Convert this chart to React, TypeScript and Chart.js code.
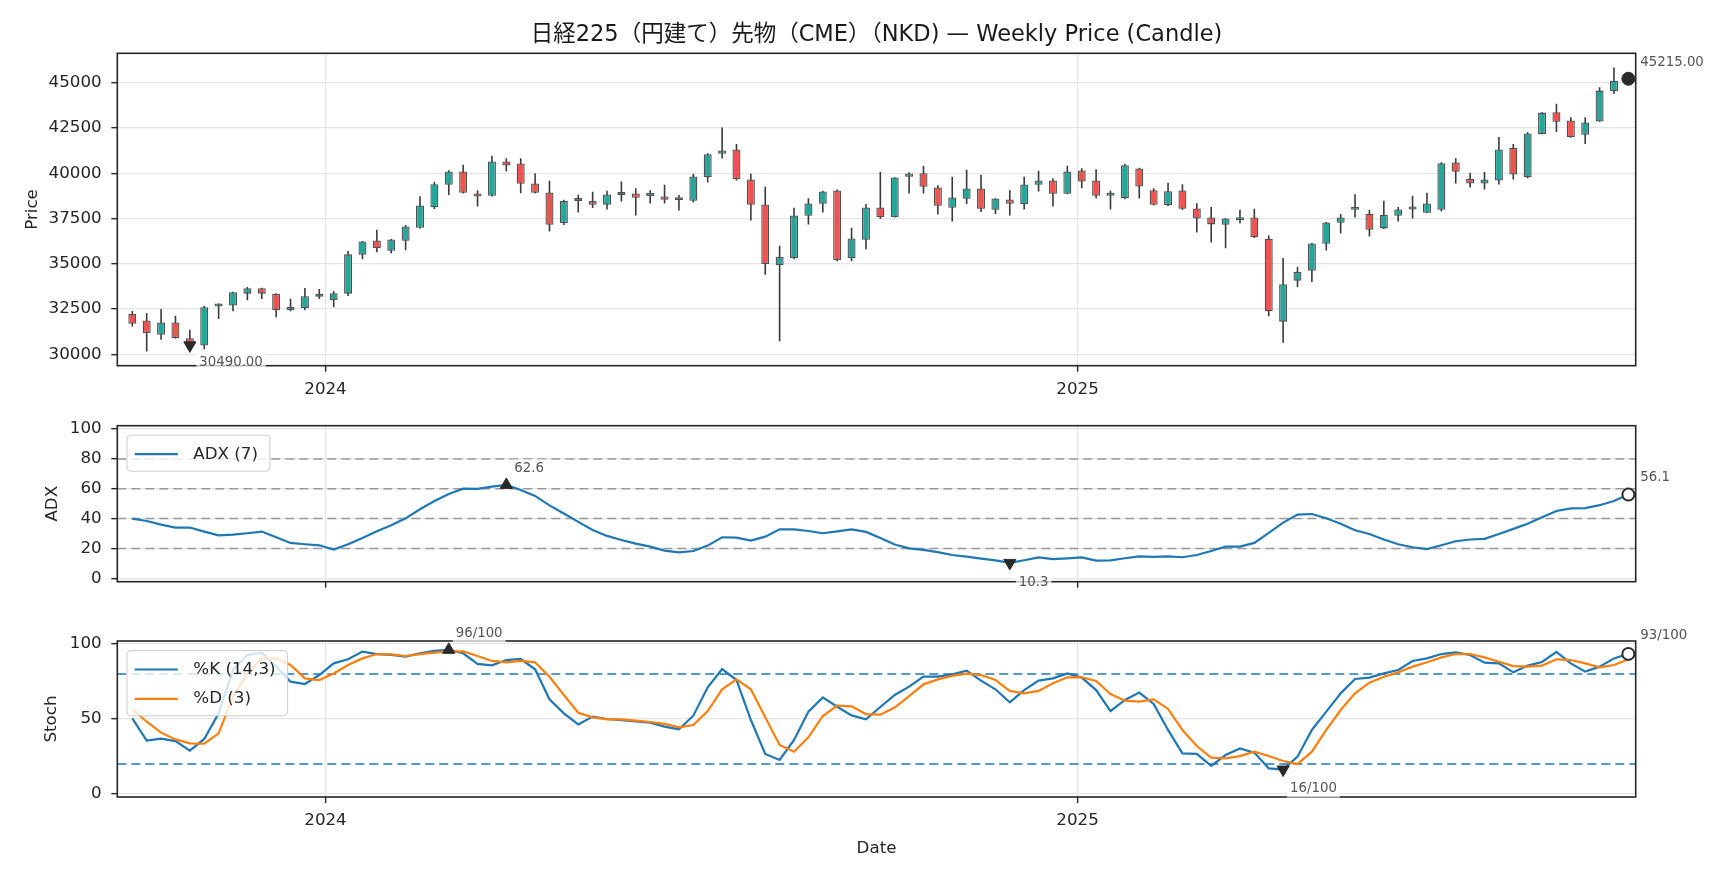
import React, { useEffect, useRef } from "react";
import { Chart, registerables } from "chart.js";

Chart.register(...registerables);

const FONT = "'DejaVu Sans', 'Noto Sans CJK JP', sans-serif";
const TITLE = "日経225（円建て）先物（CME）（NKD) — Weekly Price (Candle)";

// ---------- data ----------
const OPEN = [32222, 31870, 31074, 31759, 30889, 30480, 32640, 32685, 33347, 33641,
  33329, 32446, 32557, 33170, 32998, 33347, 35498, 36288, 35718, 36270,
  36986, 38126, 39357, 40093, 38861, 38751, 40644, 40534, 39431, 38935,
  37244, 38470, 38457, 38255, 38790, 38879, 38740, 38714, 38500, 38475,
  39780, 41067, 41306, 39651, 38273, 34909, 35314, 37648, 38310, 39045,
  35295, 36325, 38108, 37574, 39799, 40001, 39210, 38089, 38585, 39155,
  37979, 38549, 38291, 39357, 39596, 38861, 40148, 39596, 38750, 38622,
  40258, 39063, 38236, 39045, 38052, 37556, 37152, 37400, 37556, 36380,
  31800, 34064, 34615, 36104, 37262, 37980, 37758, 36950, 37648, 38010,
  37813, 37979, 40589, 39688, 39431, 39596, 41398, 39780, 42170, 43370,
  42912, 42124, 42857, 44542, 44950];

const HIGH = [32389, 32278, 32500, 32130, 31352, 32670, 32800, 33458, 33715, 33678,
  33365, 33071, 33660, 33604, 33476, 35700, 36251, 36876, 36361, 37134,
  38732, 39523, 40166, 40460, 39063, 40956, 40828, 40828, 40001, 39578,
  38530, 38806, 38971, 39027, 39541, 39174, 39063, 39357, 38788, 39964,
  41104, 42519, 41618, 39964, 39247, 35994, 38089, 38622, 39027, 39100,
  36986, 38291, 40074, 39780, 40056, 40405, 39339, 39799, 40184, 39909,
  38622, 39063, 39799, 40129, 39725, 40405, 40277, 40221, 39027, 40515,
  40295, 39174, 39468, 39394, 38346, 38126, 37519, 37979, 38034, 36564,
  35314, 34818, 36141, 37299, 37740, 38843, 37960, 38475, 38126, 38751,
  38916, 40607, 40828, 40019, 40074, 42004, 41618, 42261, 43364, 43828,
  43095, 43095, 44744, 45836, 45480];

const LOW = [31537, 30150, 30796, 30870, 30420, 30278, 31950, 32373, 32980, 33053,
  32042, 32373, 32428, 33053, 32594, 33218, 35240, 35626, 35571, 35755,
  36950, 38016, 38788, 38880, 38163, 38714, 40093, 38898, 38880, 36784,
  37134, 37832, 38071, 37997, 38438, 37666, 38328, 38328, 37942, 38383,
  39486, 40809, 39596, 37391, 34395, 30716, 35240, 37170, 37832, 35130,
  35130, 35792, 37464, 37556, 38880, 38880, 37722, 37335, 38291, 37850,
  37740, 37666, 37997, 38990, 38163, 38843, 39174, 38622, 37997, 38567,
  38604, 38218, 38181, 37960, 36729, 36178, 35847, 37225, 36417, 32097,
  30628, 33715, 33990, 35736, 36674, 37556, 36508, 36913, 37335, 37501,
  37795, 37887, 39431, 39210, 39100, 39376, 39651, 39725, 42151, 42270,
  41950, 41611, 42838, 44377, 44900];

const CLOSE = [31685, 31167, 31759, 30889, 30490, 32600, 32770, 33421, 33641, 33347,
  32446, 32575, 33200, 33200, 33365, 35516, 36233, 35847, 36343, 37060,
  38218, 39394, 40093, 38916, 38714, 40644, 40423, 39412, 38916, 37152,
  38457, 38500, 38255, 38824, 38810, 38640, 38760, 38530, 38520, 39817,
  41048, 41250, 39670, 38255, 34983, 35369, 37666, 38328, 38990, 35203,
  36398, 38108, 37574, 39762, 39982, 39247, 38199, 38659, 39155, 38034,
  38604, 38310, 39376, 39596, 38861, 40093, 39541, 38751, 38770, 40442,
  39265, 38255, 39008, 38034, 37501, 37170, 37501, 37430, 36472, 32373,
  33862, 34560, 36123, 37280, 37556, 38010, 36876, 37703, 37997, 37990,
  38328, 40552, 40074, 39431, 39651, 41306, 39927, 42188, 43346, 42838,
  41996, 42802, 44560, 45110, 45215];

const ADX = [40.0, 38.4, 36.0, 34.0, 34.0, 31.3, 28.8, 29.3, 30.2, 31.3,
  27.5, 23.7, 22.8, 22.1, 19.2, 22.8, 27.0, 31.5, 35.5, 40.2,
  46.3, 51.8, 56.5, 60.1, 59.9, 61.5, 62.6, 59.2, 55.2, 48.9,
  43.4, 37.8, 32.4, 28.4, 25.7, 23.2, 21.2, 18.5, 17.4, 18.3,
  21.9, 27.5, 27.3, 25.3, 27.9, 32.8, 32.8, 31.7, 30.2, 31.5,
  32.8, 31.1, 27.0, 22.6, 20.1, 19.0, 17.5, 15.6, 14.5, 13.2,
  12.0, 10.3, 12.1, 14.0, 12.8, 13.4, 14.0, 11.8, 12.0, 13.4,
  14.7, 14.3, 14.7, 14.1, 15.6, 18.3, 21.2, 21.2, 23.7, 30.4,
  37.3, 42.7, 43.1, 40.2, 36.6, 32.2, 29.7, 26.0, 22.8, 20.8,
  19.6, 22.1, 24.8, 26.0, 26.4, 29.7, 33.1, 36.6, 40.9, 45.1,
  46.9, 47.0, 49.0, 51.8, 56.1];

const STOCH_K = [50.4, 35.6, 36.9, 35.3, 28.9, 36.7, 53.8, 82.7, 92.7, 94.2,
  84.9, 74.9, 73.3, 79.3, 87.1, 89.8, 94.9, 93.3, 92.7, 91.6,
  93.8, 95.4, 96.1, 93.8, 86.7, 85.8, 89.3, 90.0, 83.1, 63.1,
  53.8, 46.4, 51.6, 50.0, 49.3, 48.4, 47.6, 44.9, 43.1, 52.2,
  71.1, 83.3, 76.0, 49.3, 26.7, 22.7, 36.0, 54.9, 64.4, 58.2,
  52.4, 49.8, 58.0, 66.0, 71.6, 78.2, 78.2, 79.8, 82.2, 75.6,
  69.8, 61.1, 69.3, 75.6, 77.1, 80.4, 77.6, 69.3, 55.3, 62.7,
  67.6, 60.0, 42.7, 27.1, 26.7, 18.7, 26.0, 30.4, 27.6, 17.1,
  16.3, 24.9, 42.7, 54.9, 67.1, 76.7, 77.6, 80.4, 82.7, 88.7,
  90.4, 93.3, 94.4, 92.7, 87.6, 87.1, 81.1, 85.6, 88.0, 94.7,
  87.1, 81.6, 84.9, 90.4, 93.4];

const STOCH_D = [56.7, 48.2, 40.9, 36.4, 33.8, 33.6, 40.4, 64.9, 80.4, 90.4,
  90.4, 86.0, 77.1, 76.0, 80.4, 86.0, 90.4, 93.3, 93.1, 92.0,
  93.3, 94.2, 95.1, 95.1, 92.0, 88.7, 87.8, 88.7, 87.8, 78.2,
  66.0, 54.2, 51.1, 49.8, 49.8, 48.9, 48.0, 46.7, 44.4, 46.0,
  55.3, 69.8, 76.4, 69.8, 51.1, 32.7, 28.2, 37.8, 52.0, 58.9,
  58.4, 53.3, 52.9, 57.6, 65.3, 73.1, 76.4, 78.7, 80.2, 79.3,
  76.0, 68.7, 67.1, 68.7, 73.8, 77.8, 77.8, 75.3, 66.7, 62.2,
  61.6, 63.1, 56.7, 42.7, 32.0, 24.2, 23.8, 25.3, 28.2, 25.3,
  22.0, 20.0, 28.2, 42.7, 56.0, 67.1, 74.2, 78.2, 81.1, 84.9,
  87.8, 91.1, 93.3, 93.3, 91.1, 88.2, 85.3, 84.9, 85.6, 89.8,
  89.3, 87.1, 84.4, 86.0, 89.8];

// x positions (week index) of the year ticks and their labels
const YEAR_LABELS = ["2024", "2025"];
const YEAR_POS = [13.43, 65.71];
const PRICE_TICKS = [30000, 32500, 35000, 37500, 40000, 42500, 45000];
const ADX_TICKS = [0, 20, 40, 60, 80, 100];
const ADX_LEVELS = [20, 40, 60, 80];
const STOCH_TICKS = [0, 50, 100];
const STOCH_LEVELS = [20, 80];

// ---------- style / layout ----------
const X_MIN = -1.043;
const X_MAX = 104.51;
const PLOT_LEFT = 117.3;
const PLOT_RIGHT = 1635.7;
const W = 1728;

const TEAL = "#26a69a";
const RED = "#ef5350";
const EDGE = "#505050";
const WICK = "#3a3a3a";
const BLUE = "#1f77b4";
const ORANGE = "#ff7f0e";
const GRID = "#e6e6e6";
const AXIS = "#262626";
const TEXT = "#262626";
const MARK = "#2a2a2a";
const TICK_FONT = { size: 16.7, family: FONT };

const argmin = (a: number[]) => a.reduce((b, v, i) => (v < a[b] ? i : b), 0);
const argmax = (a: number[]) => a.reduce((b, v, i) => (v > a[b] ? i : b), 0);

type Ann = { x: number; y: number; text: string; dx: number; dy: number };
type LegendItem = { label: string; color: string };

function decor(cfg: { title?: string; legend?: LegendItem[]; anns: Ann[] }) {
  return {
    id: "decor",
    afterDatasetsDraw(chart: any) {
      const { ctx, chartArea: a } = chart;
      ctx.save();
      ctx.strokeStyle = AXIS;
      ctx.lineWidth = 1.6;
      ctx.strokeRect(a.left, a.top, a.right - a.left, a.bottom - a.top);
      ctx.restore();
    },
    afterDraw(chart: any) {
      const { ctx, chartArea: a, scales } = chart;
      ctx.save();
      if (cfg.legend) {
        const items = cfg.legend;
        ctx.font = `16.7px ${FONT}`;
        const tw = Math.max(...items.map((l) => ctx.measureText(l.label).width));
        const bx = a.left + 9.7;
        const by = a.top + 9.5;
        const tx = a.left + 76;
        const bw = tx + tw + 12 - bx;
        const bh = 19 + (items.length - 1) * 29.3 + 17;
        ctx.beginPath();
        if ((ctx as any).roundRect) (ctx as any).roundRect(bx, by, bw, bh, 4);
        else ctx.rect(bx, by, bw, bh);
        ctx.fillStyle = "rgba(255,255,255,0.8)";
        ctx.fill();
        ctx.strokeStyle = "#cccccc";
        ctx.lineWidth = 1;
        ctx.stroke();
        items.forEach((l, k) => {
          const y = by + 19 + k * 29.3;
          ctx.beginPath();
          ctx.moveTo(a.left + 17.4, y);
          ctx.lineTo(a.left + 60.5, y);
          ctx.strokeStyle = l.color;
          ctx.lineWidth = 2.2;
          ctx.stroke();
          ctx.fillStyle = TEXT;
          ctx.textAlign = "left";
          ctx.textBaseline = "middle";
          ctx.fillText(l.label, tx, y);
        });
      }
      ctx.font = `13.3px ${FONT}`;
      ctx.textAlign = "left";
      ctx.textBaseline = "middle";
      for (const an of cfg.anns) {
        const px = scales.x.getPixelForValue(an.x) + an.dx;
        const py = scales.y.getPixelForValue(an.y) + an.dy;
        const w = ctx.measureText(an.text).width;
        ctx.fillStyle = "rgba(255,255,255,0.7)";
        ctx.fillRect(px - 3, py - 9, w + 6, 18);
        ctx.fillStyle = "#555555";
        ctx.fillText(an.text, px, py);
      }
      if (cfg.title) {
        ctx.font = `22.5px ${FONT}`;
        ctx.fillStyle = "#1a1a1a";
        ctx.textAlign = "center";
        ctx.textBaseline = "middle";
        ctx.fillText(cfg.title, (a.left + a.right) / 2, 35.5);
      }
      ctx.restore();
    },
  };
}

function xScale(axisHeight: number, showLabels: boolean, title?: string): any {
  return {
    type: "linear",
    min: X_MIN,
    max: X_MAX,
    offset: false,
    afterBuildTicks: (ax: any) => {
      ax.ticks = YEAR_POS.map((v) => ({ value: v }));
    },
    afterFit: (ax: any) => {
      ax.height = axisHeight;
    },
    ticks: {
      autoSkip: false,
      maxRotation: 0,
      padding: 8,
      color: TEXT,
      font: TICK_FONT,
      callback: (_v: any, i: number) => (showLabels ? YEAR_LABELS[i] : ""),
    },
    grid: { offset: false, color: GRID, lineWidth: 1.3, drawTicks: true, tickLength: 6, tickColor: AXIS, tickWidth: 1.4 },
    border: { display: false },
    title: title
      ? { display: true, text: title, color: TEXT, font: TICK_FONT, padding: { top: 0, bottom: 19 } }
      : { display: false },
  };
}

function yScale(min: number, max: number, ticks: number[], title: string, titlePad: number): any {
  return {
    type: "linear",
    min,
    max,
    beginAtZero: false,
    afterBuildTicks: (ax: any) => {
      ax.ticks = ticks.map((v) => ({ value: v }));
    },
    afterFit: (ax: any) => {
      ax.width = PLOT_LEFT;
    },
    ticks: { padding: 9.6, color: TEXT, font: TICK_FONT, callback: (v: any) => String(v) },
    grid: { color: GRID, lineWidth: 1.3, drawTicks: true, tickLength: 6, tickColor: AXIS, tickWidth: 1.4 },
    border: { display: false },
    title: { display: true, text: title, color: TEXT, font: TICK_FONT, padding: { top: titlePad, bottom: 0 } },
  };
}

const baseOptions = (top: number) => ({
  animation: false as const,
  responsive: false,
  events: [] as any[],
  layout: { padding: { left: 0, right: W - PLOT_RIGHT, top, bottom: 0 } },
  plugins: { legend: { display: false }, tooltip: { enabled: false }, title: { display: false } },
});

function makePrice(canvas: HTMLCanvasElement) {
  const idx = CLOSE.map((_, i) => i);
  const minI = argmin(CLOSE);
  const lastI = CLOSE.length - 1;
  return new Chart(canvas, {
    type: "bar",
    data: {
      datasets: [
        {
          type: "line",
          data: [{ x: minI, y: CLOSE[minI] }],
          showLine: false,
          pointStyle: "triangle",
          pointRotation: 180,
          pointRadius: 7,
          pointBackgroundColor: MARK,
          pointBorderColor: MARK,
          order: 0,
          clip: false,
        } as any,
        {
          type: "line",
          data: [{ x: lastI, y: CLOSE[lastI] }],
          showLine: false,
          pointStyle: "circle",
          pointRadius: 6.5,
          pointBackgroundColor: MARK,
          pointBorderColor: MARK,
          order: 0,
          clip: false,
        } as any,
        {
          type: "bar",
          data: idx.map((i) => ({ x: i, y: [OPEN[i], CLOSE[i]] })),
          backgroundColor: idx.map((i) => (CLOSE[i] >= OPEN[i] ? TEAL : RED)),
          borderColor: EDGE,
          borderWidth: 1.3,
          borderSkipped: false,
          maxBarThickness: 8,
          minBarLength: 3,
          grouped: false,
          order: 1,
        } as any,
        {
          type: "bar",
          data: idx.map((i) => ({ x: i, y: [LOW[i], HIGH[i]] })),
          backgroundColor: WICK,
          borderWidth: 0,
          maxBarThickness: 1.6,
          grouped: false,
          order: 2,
        } as any,
      ],
    },
    options: {
      ...baseOptions(53.3),
      scales: {
        x: xScale(34.3, true),
        y: yScale(29367, 46621, PRICE_TICKS, "Price", 23),
      },
    } as any,
    plugins: [
      decor({
        title: TITLE,
        anns: [
          { x: minI, y: CLOSE[minI], text: CLOSE[minI].toFixed(2), dx: 9.5, dy: 17.5 },
          { x: lastI, y: CLOSE[lastI], text: CLOSE[lastI].toFixed(2), dx: 12, dy: -16.5 },
        ],
      }) as any,
    ],
  });
}

function markerSets(values: number[]) {
  const maxI = argmax(values);
  const minI = argmin(values);
  const lastI = values.length - 1;
  const common = { type: "line", showLine: false, order: 0, clip: false };
  return {
    maxI,
    minI,
    lastI,
    sets: [
      { ...common, data: [{ x: maxI, y: values[maxI] }], pointStyle: "triangle", pointRadius: 7, pointBackgroundColor: MARK, pointBorderColor: MARK },
      { ...common, data: [{ x: minI, y: values[minI] }], pointStyle: "triangle", pointRotation: 180, pointRadius: 7, pointBackgroundColor: MARK, pointBorderColor: MARK },
      { ...common, data: [{ x: lastI, y: values[lastI] }], pointStyle: "circle", pointRadius: 6, pointBackgroundColor: "#ffffff", pointBorderColor: MARK, pointBorderWidth: 2 },
    ] as any[],
  };
}

function levelSets(levels: number[], color: string, width: number) {
  return levels.map((l) => ({
    type: "line",
    data: [{ x: X_MIN, y: l }, { x: X_MAX, y: l }],
    borderColor: color,
    borderWidth: width,
    borderDash: [9, 5],
    pointRadius: 0,
    order: 5,
  })) as any[];
}

function makeAdx(canvas: HTMLCanvasElement) {
  const m = markerSets(ADX);
  return new Chart(canvas, {
    type: "line",
    data: {
      datasets: [
        ...m.sets,
        {
          label: "ADX (7)",
          data: ADX.map((v, i) => ({ x: i, y: v })),
          borderColor: BLUE,
          borderWidth: 2.2,
          pointRadius: 0,
          tension: 0,
          order: 1,
        },
        ...levelSets(ADX_LEVELS, "#9a9a9a", 1.5),
      ],
    },
    options: {
      ...baseOptions(25.7),
      scales: {
        x: xScale(28.3, false),
        y: yScale(-2.3, 102.3, ADX_TICKS, "ADX", 43),
      },
    } as any,
    plugins: [
      decor({
        legend: [{ label: "ADX (7)", color: BLUE }],
        anns: [
          { x: m.maxI, y: ADX[m.maxI], text: ADX[m.maxI].toFixed(1), dx: 8, dy: -16.6 },
          { x: m.minI, y: ADX[m.minI], text: ADX[m.minI].toFixed(1), dx: 9, dy: 20 },
          { x: m.lastI, y: ADX[m.lastI], text: ADX[m.lastI].toFixed(1), dx: 12, dy: -17.3 },
        ],
      }) as any,
    ],
  });
}

function makeStoch(canvas: HTMLCanvasElement) {
  const m = markerSets(STOCH_K);
  const fmt = (v: number) => `${Math.round(v)}/100`;
  return new Chart(canvas, {
    type: "line",
    data: {
      datasets: [
        ...m.sets,
        {
          label: "%D (3)",
          data: STOCH_D.map((v, i) => ({ x: i, y: v })),
          borderColor: ORANGE,
          borderWidth: 2.2,
          pointRadius: 0,
          tension: 0,
          order: 1,
        },
        {
          label: "%K (14,3)",
          data: STOCH_K.map((v, i) => ({ x: i, y: v })),
          borderColor: BLUE,
          borderWidth: 2.2,
          pointRadius: 0,
          tension: 0,
          order: 2,
        },
        ...levelSets(STOCH_LEVELS, BLUE, 1.7),
      ],
    },
    options: {
      ...baseOptions(31),
      scales: {
        x: xScale(81, true, "Date"),
        y: yScale(-2, 102, STOCH_TICKS, "Stoch", 42),
      },
    } as any,
    plugins: [
      decor({
        legend: [
          { label: "%K (14,3)", color: BLUE },
          { label: "%D (3)", color: ORANGE },
        ],
        anns: [
          { x: m.maxI, y: STOCH_K[m.maxI], text: fmt(STOCH_K[m.maxI]), dx: 7, dy: -16 },
          { x: m.minI, y: STOCH_K[m.minI], text: fmt(STOCH_K[m.minI]), dx: 7, dy: 19 },
          { x: m.lastI, y: STOCH_K[m.lastI], text: fmt(STOCH_K[m.lastI]), dx: 12, dy: -18.5 },
        ],
      }) as any,
    ],
  });
}

export default function App() {
  const aRef = useRef<HTMLCanvasElement>(null);
  const bRef = useRef<HTMLCanvasElement>(null);
  const cRef = useRef<HTMLCanvasElement>(null);

  useEffect(() => {
    Chart.defaults.font.family = FONT;
    Chart.defaults.color = TEXT;
    const charts = [makePrice(aRef.current!), makeAdx(bRef.current!), makeStoch(cRef.current!)];
    return () => charts.forEach((c) => c.destroy());
  }, []);

  const cs = (top: number, h: number): React.CSSProperties => ({
    position: "absolute",
    left: 0,
    top,
    width: W,
    height: h,
  });

  return (
    <div style={{ position: "fixed", left: 0, top: 0, width: W, height: 878, background: "#ffffff", overflow: "hidden" }}>
      <canvas ref={aRef} width={W} height={400} style={cs(0, 400)} />
      <canvas ref={bRef} width={W} height={210} style={cs(400, 210)} />
      <canvas ref={cRef} width={W} height={268} style={cs(610, 268)} />
    </div>
  );
}
